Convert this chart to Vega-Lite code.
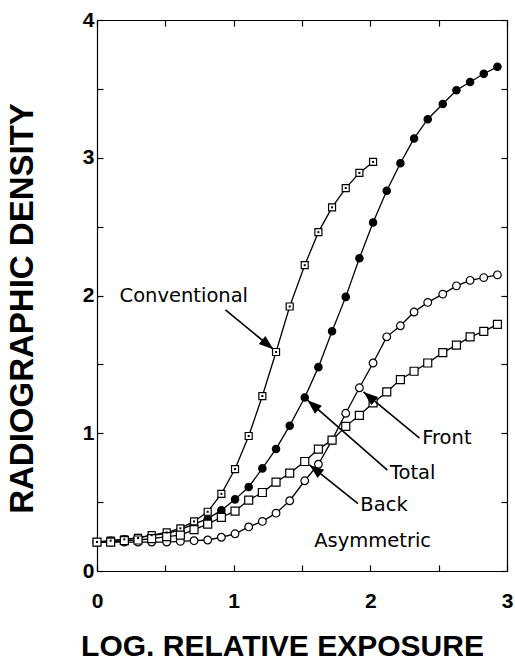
{
  "$schema": "https://vega.github.io/schema/vega-lite/v6.json",
  "width": 410,
  "height": 551,
  "autosize": {"type": "none"},
  "padding": {"left": 97, "top": 20, "right": 8, "bottom": 91},
  "background": "white",
  "config": {
    "view": {"stroke": null},
    "axis": {
      "grid": false,
      "domainColor": "black",
      "domainWidth": 1.2,
      "tickColor": "black",
      "tickWidth": 1.2,
      "tickSize": -6,
      "labelFont": "Liberation Sans",
      "labelFontSize": 21,
      "labelFontWeight": "bold",
      "labelColor": "black",
      "titleFont": "Liberation Sans",
      "titleFontWeight": "bold",
      "titleColor": "black"
    }
  },
  "datasets": {
    "curves": [
      {"s":"Total","x":0.00,"y":0.21},{"s":"Total","x":0.10,"y":0.22},{"s":"Total","x":0.20,"y":0.23},{"s":"Total","x":0.30,"y":0.24},{"s":"Total","x":0.40,"y":0.26},{"s":"Total","x":0.51,"y":0.27},{"s":"Total","x":0.61,"y":0.30},{"s":"Total","x":0.71,"y":0.34},{"s":"Total","x":0.81,"y":0.38},{"s":"Total","x":0.91,"y":0.44},{"s":"Total","x":1.01,"y":0.52},{"s":"Total","x":1.11,"y":0.61},{"s":"Total","x":1.21,"y":0.745},{"s":"Total","x":1.31,"y":0.886},{"s":"Total","x":1.41,"y":1.055},{"s":"Total","x":1.52,"y":1.26},{"s":"Total","x":1.62,"y":1.48},{"s":"Total","x":1.72,"y":1.74},{"s":"Total","x":1.82,"y":1.99},{"s":"Total","x":1.92,"y":2.27},{"s":"Total","x":2.02,"y":2.53},{"s":"Total","x":2.12,"y":2.76},{"s":"Total","x":2.22,"y":2.96},{"s":"Total","x":2.32,"y":3.14},{"s":"Total","x":2.42,"y":3.28},{"s":"Total","x":2.53,"y":3.39},{"s":"Total","x":2.63,"y":3.49},{"s":"Total","x":2.73,"y":3.55},{"s":"Total","x":2.83,"y":3.61},{"s":"Total","x":2.93,"y":3.66},
      {"s":"Conventional","x":0.00,"y":0.21},{"s":"Conventional","x":0.10,"y":0.22},{"s":"Conventional","x":0.20,"y":0.23},{"s":"Conventional","x":0.30,"y":0.24},{"s":"Conventional","x":0.40,"y":0.26},{"s":"Conventional","x":0.51,"y":0.28},{"s":"Conventional","x":0.61,"y":0.31},{"s":"Conventional","x":0.71,"y":0.36},{"s":"Conventional","x":0.81,"y":0.43},{"s":"Conventional","x":0.91,"y":0.56},{"s":"Conventional","x":1.01,"y":0.74},{"s":"Conventional","x":1.11,"y":0.98},{"s":"Conventional","x":1.21,"y":1.27},{"s":"Conventional","x":1.31,"y":1.59},{"s":"Conventional","x":1.41,"y":1.92},{"s":"Conventional","x":1.52,"y":2.22},{"s":"Conventional","x":1.62,"y":2.46},{"s":"Conventional","x":1.72,"y":2.64},{"s":"Conventional","x":1.82,"y":2.78},{"s":"Conventional","x":1.92,"y":2.89},{"s":"Conventional","x":2.02,"y":2.97},
      {"s":"Front","x":0.00,"y":0.21},{"s":"Front","x":0.10,"y":0.21},{"s":"Front","x":0.20,"y":0.21},{"s":"Front","x":0.30,"y":0.21},{"s":"Front","x":0.40,"y":0.21},{"s":"Front","x":0.51,"y":0.21},{"s":"Front","x":0.61,"y":0.215},{"s":"Front","x":0.71,"y":0.22},{"s":"Front","x":0.81,"y":0.225},{"s":"Front","x":0.91,"y":0.245},{"s":"Front","x":1.01,"y":0.27},{"s":"Front","x":1.11,"y":0.32},{"s":"Front","x":1.21,"y":0.36},{"s":"Front","x":1.31,"y":0.42},{"s":"Front","x":1.41,"y":0.51},{"s":"Front","x":1.52,"y":0.655},{"s":"Front","x":1.62,"y":0.775},{"s":"Front","x":1.72,"y":0.95},{"s":"Front","x":1.82,"y":1.145},{"s":"Front","x":1.92,"y":1.33},{"s":"Front","x":2.02,"y":1.51},{"s":"Front","x":2.12,"y":1.70},{"s":"Front","x":2.22,"y":1.78},{"s":"Front","x":2.32,"y":1.88},{"s":"Front","x":2.42,"y":1.95},{"s":"Front","x":2.53,"y":2.01},{"s":"Front","x":2.63,"y":2.07},{"s":"Front","x":2.73,"y":2.11},{"s":"Front","x":2.83,"y":2.13},{"s":"Front","x":2.93,"y":2.15},
      {"s":"Back","x":0.00,"y":0.21},{"s":"Back","x":0.10,"y":0.21},{"s":"Back","x":0.20,"y":0.22},{"s":"Back","x":0.30,"y":0.225},{"s":"Back","x":0.40,"y":0.235},{"s":"Back","x":0.51,"y":0.25},{"s":"Back","x":0.61,"y":0.26},{"s":"Back","x":0.71,"y":0.30},{"s":"Back","x":0.81,"y":0.34},{"s":"Back","x":0.91,"y":0.39},{"s":"Back","x":1.01,"y":0.435},{"s":"Back","x":1.11,"y":0.515},{"s":"Back","x":1.21,"y":0.57},{"s":"Back","x":1.31,"y":0.645},{"s":"Back","x":1.41,"y":0.71},{"s":"Back","x":1.52,"y":0.795},{"s":"Back","x":1.62,"y":0.885},{"s":"Back","x":1.72,"y":0.95},{"s":"Back","x":1.82,"y":1.05},{"s":"Back","x":1.92,"y":1.13},{"s":"Back","x":2.02,"y":1.22},{"s":"Back","x":2.12,"y":1.30},{"s":"Back","x":2.22,"y":1.39},{"s":"Back","x":2.32,"y":1.45},{"s":"Back","x":2.42,"y":1.51},{"s":"Back","x":2.53,"y":1.585},{"s":"Back","x":2.63,"y":1.64},{"s":"Back","x":2.73,"y":1.70},{"s":"Back","x":2.83,"y":1.74},{"s":"Back","x":2.93,"y":1.79}
    ],
    "arrows": [
      {"label":"Conventional","sx":0.94,"sy":1.895,"tx":1.29,"ty":1.61},
      {"label":"Total","sx":2.125,"sy":0.733,"tx":1.54,"ty":1.24},
      {"label":"Front","sx":2.36,"sy":0.965,"tx":1.95,"ty":1.30},
      {"label":"Back","sx":1.91,"sy":0.49,"tx":1.555,"ty":0.77}
    ],
    "labels": [
      {"text":"Conventional","x":0.635,"y":2.0},
      {"text":"Total","x":2.31,"y":0.71},
      {"text":"Front","x":2.56,"y":0.963},
      {"text":"Back","x":2.10,"y":0.479},
      {"text":"Asymmetric","x":2.017,"y":0.22}
    ]
  },
  "resolve": {"axis": {"x": "independent", "y": "independent"}},
  "layer": [
    {
      "data": {"name": "curves"},
      "mark": {"type": "line", "color": "black", "strokeWidth": 1.3},
      "encoding": {
        "x": {"field": "x", "type": "quantitative",
              "scale": {"domain": [0, 3], "nice": false, "zero": false},
              "axis": {"orient": "bottom", "values": [0,0.5,1,1.5,2,2.5,3],
                       "labelExpr": "datum.value % 1 == 0 ? format(datum.value, 'd') : ''",
                       "labelPadding": 36, "labelBaseline": "middle", "labelFlush": false,
                       "title": "LOG. RELATIVE EXPOSURE", "titleFontSize": 30,
                       "titleX": 185, "titleY": 75, "titleBaseline": "middle", "titleAnchor": null, "titleAlign": "center"}},
        "y": {"field": "y", "type": "quantitative",
              "scale": {"domain": [0, 4], "nice": false, "zero": false},
              "axis": {"orient": "left", "values": [0,0.5,1,1.5,2,2.5,3,3.5,4],
                       "labelExpr": "datum.value % 1 == 0 ? format(datum.value, 'd') : ''",
                       "labelPadding": 9, "labelFlush": false,
                       "title": "RADIOGRAPHIC DENSITY", "titleFontSize": 33,
                       "titleX": -75, "titleY": 288, "titleAngle": -90, "titleBaseline": "middle", "titleAlign": "center", "titleAnchor": null}},
        "detail": {"field": "s"}
      }
    },
    {
      "data": {"name": "curves"},
      "mark": {"type": "point", "filled": false, "stroke": "black", "strokeWidth": 1.2, "opacity": 1},
      "encoding": {
        "x": {"field": "x", "type": "quantitative", "axis": null},
        "y": {"field": "y", "type": "quantitative", "axis": null},
        "shape": {"field": "s", "type": "nominal", "legend": null,
                  "scale": {"domain": ["Conventional","Total","Front","Back"], "range": ["square","circle","circle","square"]}},
        "fill": {"field": "s", "type": "nominal", "legend": null,
                 "scale": {"domain": ["Conventional","Total","Front","Back"], "range": ["white","black","white","white"]}},
        "size": {"field": "s", "type": "nominal", "legend": null,
                 "scale": {"domain": ["Conventional","Total","Front","Back"], "range": [49, 64, 45, 70]}}
      }
    },
    {
      "data": {"name": "curves"},
      "transform": [{"filter": "datum.s == 'Conventional'"}],
      "mark": {"type": "point", "shape": "square", "filled": true, "color": "black", "size": 4, "opacity": 1},
      "encoding": {
        "x": {"field": "x", "type": "quantitative", "axis": null},
        "y": {"field": "y", "type": "quantitative", "axis": null}
      }
    },
    {
      "data": {"name": "arrows"},
      "mark": {"type": "rule", "color": "black", "strokeWidth": 1.6},
      "encoding": {
        "x": {"field": "sx", "type": "quantitative", "axis": null},
        "y": {"field": "sy", "type": "quantitative", "axis": null},
        "x2": {"field": "tx"},
        "y2": {"field": "ty"}
      }
    },
    {
      "data": {"name": "arrows"},
      "transform": [{"calculate": "atan2(-(datum.ty - datum.sy) * 137.75, (datum.tx - datum.sx) * 136.7) * 180 / PI", "as": "ang"}],
      "mark": {"type": "point", "shape": "M0,0L-1,-0.36L-1,0.36Z", "filled": true, "color": "black", "size": 841, "opacity": 1},
      "encoding": {
        "x": {"field": "tx", "type": "quantitative", "axis": null},
        "y": {"field": "ty", "type": "quantitative", "axis": null},
        "angle": {"field": "ang", "type": "quantitative", "scale": null}
      }
    },
    {
      "data": {"name": "labels"},
      "mark": {"type": "text", "font": "DejaVu Sans", "fontSize": 19.5, "color": "black", "align": "center", "baseline": "middle"},
      "encoding": {
        "x": {"field": "x", "type": "quantitative", "axis": null},
        "y": {"field": "y", "type": "quantitative", "axis": null},
        "text": {"field": "text"}
      }
    },
    {
      "data": {"name": "labels"},
      "mark": {"type": "point", "opacity": 0},
      "encoding": {
        "x": {"field": "x", "type": "quantitative",
              "axis": {"orient": "top", "values": [0,0.5,1,1.5,2,2.5,3], "labels": false, "title": null}},
        "y": {"field": "y", "type": "quantitative",
              "axis": {"orient": "right", "values": [0,0.5,1,1.5,2,2.5,3,3.5,4], "labels": false, "title": null}}
      }
    }
  ]
}
